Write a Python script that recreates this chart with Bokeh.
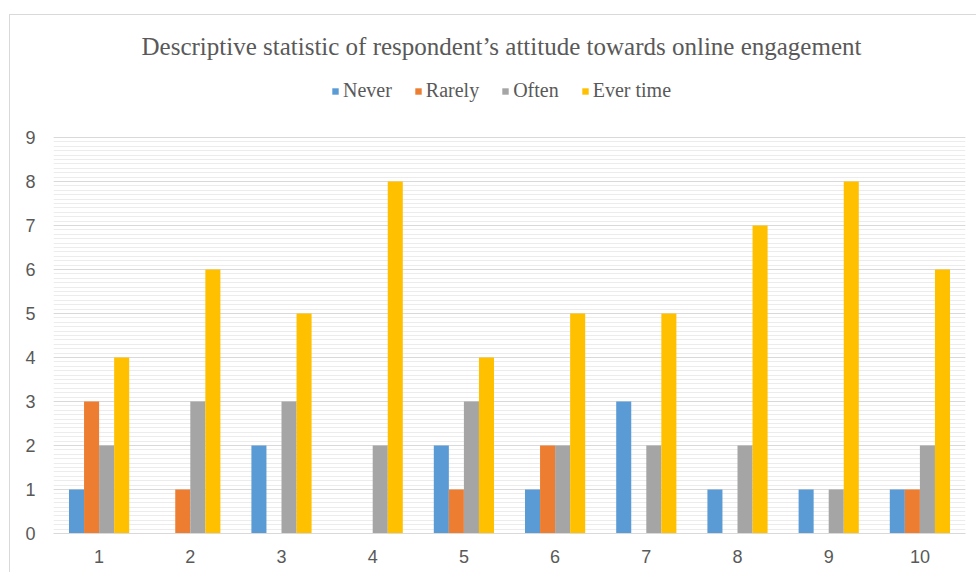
from bokeh.plotting import figure
from bokeh.models import (ColumnDataSource, FactorRange, Range1d, FixedTicker, Label,
                          Legend, LegendItem)
from bokeh.transform import dodge
from bokeh.embed import file_html
from bokeh.resources import INLINE

categories = ["1", "2", "3", "4", "5", "6", "7", "8", "9", "10"]
never = [1, 0, 2, 0, 2, 1, 3, 1, 1, 1]
rarely = [3, 1, 0, 0, 1, 2, 0, 0, 0, 1]
often = [2, 3, 3, 2, 3, 2, 2, 2, 1, 2]
ever_time = [4, 6, 5, 8, 4, 5, 5, 7, 8, 6]
series_names = ["Never", "Rarely", "Often", "Ever time"]
colors = ["#5B9BD5", "#ED7D31", "#A5A5A5", "#FFC000"]
y_ticks = list(range(0, 10))
title_text = "Descriptive statistic of respondent\u2019s attitude towards online engagement"

source = ColumnDataSource(dict(cat=categories, never=never, rarely=rarely,
                               often=often, ever=ever_time))

p = figure(width=967, height=558, x_range=FactorRange(*categories, range_padding=0),
           y_range=Range1d(0, 11.75), output_backend="svg", toolbar_location=None,
           min_border_left=43, min_border_right=12, min_border_top=1,
           min_border_bottom=40, title=None)
p.margin = (14, 0, 0, 9)
p.styles = {"border-left": "1px solid #d9d9d9", "border-top": "1px solid #d9d9d9"}
p.outline_line_color = None
p.background_fill_color = "white"
p.border_fill_color = "white"

bw = 0.165
fields = ["never", "rarely", "often", "ever"]
offsets = [-0.2475, -0.0825, 0.0825, 0.2475]
renderers = []
for f, off, c in zip(fields, offsets, colors):
    r = p.vbar(x=dodge("cat", off, range=p.x_range), top=f, width=bw, source=source,
               fill_color=c, line_color=None)
    renderers.append(r)

# grid
p.xgrid.grid_line_color = None
p.ygrid.ticker = FixedTicker(ticks=y_ticks, minor_ticks=[i / 10 for i in range(0, 91)])
p.ygrid.grid_line_color = "#d9d9d9"
p.ygrid.grid_line_width = 1
p.ygrid.minor_grid_line_color = "#ececec"
p.ygrid.minor_grid_line_width = 1

# y axis
p.yaxis.ticker = FixedTicker(ticks=y_ticks)
p.yaxis.bounds = (0, 9)
p.yaxis.axis_line_color = None
p.yaxis.major_tick_line_color = None
p.yaxis.minor_tick_line_color = None
p.yaxis.major_tick_out = 0
p.yaxis.minor_tick_out = 0
p.yaxis.major_label_standoff = 18
p.yaxis.major_label_text_font = "Liberation Sans"
p.yaxis.major_label_text_font_size = "18px"
p.yaxis.major_label_text_color = "#595959"

# x axis
p.xaxis.axis_line_color = "#d9d9d9"
p.xaxis.major_tick_line_color = None
p.xaxis.minor_tick_line_color = None
p.xaxis.major_tick_out = 0
p.xaxis.major_label_standoff = 16
p.xaxis.major_label_text_font = "Liberation Sans"
p.xaxis.major_label_text_font_size = "18px"
p.xaxis.major_label_text_color = "#595959"

# title (x=0 is the left edge of the categorical frame)
title = Label(x=0, y=11.07, x_units="data", y_units="data", x_offset=88,
              text=title_text, text_font="Liberation Serif", text_font_size="25px",
              text_color="#595959", text_align="left", text_baseline="middle")
p.add_layout(title)

# legend
items = [LegendItem(label=n, renderers=[r]) for n, r in zip(series_names, renderers)]
legend = Legend(items=items, orientation="horizontal", location=(278, 431),
                label_text_font="Liberation Serif", label_text_font_size="20px",
                label_text_color="#595959", glyph_width=8, glyph_height=8,
                label_standoff=4, spacing=22, padding=0, margin=0,
                border_line_color=None, background_fill_alpha=0)
p.add_layout(legend, "center")

open("out.html", "w").write(file_html(p, INLINE))
